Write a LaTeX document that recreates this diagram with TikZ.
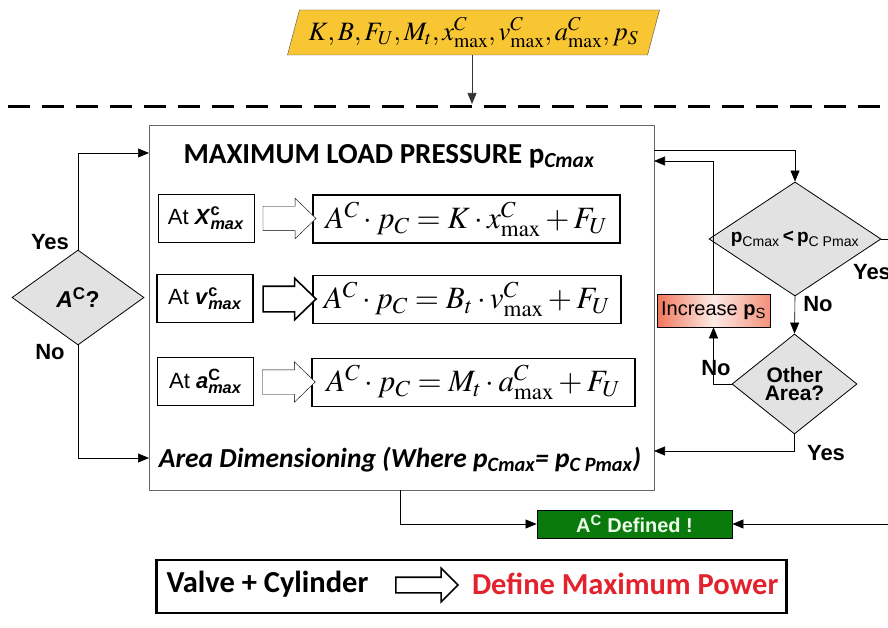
\documentclass[tikz,border=0pt]{standalone}
\usepackage{amsmath}
\usepackage[no-math]{fontspec}
\usepackage{mathptmx}
\setmainfont{Liberation Sans}
\newfontfamily\calibri{Carlito}
\usepackage{tikz}
\usetikzlibrary{arrows.meta, positioning, shapes.geometric, shapes.arrows, calc}
\definecolor{pyellow}{RGB}{248, 198, 51}
\definecolor{dgray}{RGB}{226, 226, 226}
\definecolor{dgreen}{RGB}{10, 122, 12}
\definecolor{dred}{RGB}{226, 34, 44}
\definecolor{salmon}{RGB}{240, 118, 90}

\begin{document}
\begin{tikzpicture}[
  x=1pt, y=-1pt,
  box/.style={rectangle, draw, inner sep=0pt, align=center},
  labelbox/.style={box, thin, minimum width=96pt, minimum height=48pt,
                   font=\fontsize{22}{22}\selectfont},
  eqbox/.style={box, line width=1.6pt, minimum height=48pt,
                font=\fontsize{31}{31}\selectfont},
  decision/.style={diamond, draw, thick, fill=dgray, inner sep=0pt,
                   aspect=1.3, align=center, font=\bfseries\fontsize{21}{18}\selectfont},
  hollow/.style={single arrow, draw, fill=white, inner xsep=0pt, inner ysep=12pt,
                 single arrow head extend=8pt, single arrow tip angle=88,
                 minimum height=53pt},
  arr/.style={-{Triangle[length=11pt, width=9pt]}, semithick},
  tag/.style={font=\bfseries\fontsize{22}{22}\selectfont}
]
  \clip (0,0) rectangle (888,628);

  % input parameters
  \node[trapezium, trapezium left angle=68, trapezium right angle=112,
        trapezium stretches body, draw=black!70, fill=pyellow,
        minimum width=372pt, minimum height=45pt, inner sep=0pt,
        font=\fontsize{26.5}{26.5}\selectfont] (params) at (473.5,32.5)
    {$K,B,F_U,M_t,x^C_{\max},v^C_{\max},a^C_{\max},p_S$};
  \coordinate (dash) at (472,104);
  \draw[arr, black!80] (params.south -| dash) -- (dash);
  \draw[line width=3pt, dash pattern=on 22pt off 12pt] (8,107) -- (888,107);

  % main block
  \node[box, draw=black!60, minimum width=505pt, minimum height=365pt] (main)
    at (401.5,307.5) {};
  \node[font=\calibri\bfseries\fontsize{29}{29}\selectfont] (title) at (389,156)
    {MAXIMUM LOAD PRESSURE p\textsubscript{\itshape Cmax}};

  \node[labelbox] (atx) at (206,218)
    {At $\textbf{\textit{X}}^{\textbf{c}}_{\textbf{\textit{max}}}$};
  \node[labelbox, line width=1.6pt] (atv) at (205,298.5)
    {At $\textbf{\textit{v}}^{\textbf{c}}_{\textbf{\textit{max}}}$};
  \node[labelbox] (ata) at (205.5,381.5)
    {At $\textbf{\textit{a}}^{\textbf{C}}_{\textbf{\textit{max}}}$};

  \node[eqbox, minimum width=307pt] (eqx) at (466.5,219)
    {$A^C\cdot p_C = K\cdot x^C_{\max} + F_U$};
  \node[eqbox, minimum width=308pt] (eqv) at (467,299.5)
    {$A^C\cdot p_C = B_t\cdot v^C_{\max} + F_U$};
  \node[eqbox, minimum width=323pt] (eqa) at (473.5,382.5)
    {$A^C\cdot p_C = M_t\cdot a^C_{\max} + F_U$};

  \node[hollow] at ($(atx.east)!0.5!(eqx.west)$) {};
  \node[hollow, line width=1.6pt] at ($(atv.east)!0.5!(eqv.west)$) {};
  \node[hollow, thin] at ($(ata.east)!0.5!(eqa.west)$) {};

  \node[font=\calibri\bfseries\itshape\fontsize{27.5}{27.5}\selectfont] (area) at (400,460)
    {Area Dimensioning (Where p\textsubscript{Cmax}= p\textsubscript{C Pmax})};

  % area decision
  \node[decision, minimum width=132pt, minimum height=95pt,
        font=\bfseries\fontsize{23}{23}\selectfont] (ac) at (78,297.5)
    {\itshape A\textsuperscript{\upshape C}\upshape ?};
  \node[tag] at (50,242) {Yes};
  \node[tag] at (50,352) {No};
  \coordinate (inTop) at (149,153);
  \coordinate (inBot) at (149,458);
  \draw[arr] (ac.north) |- (inTop);
  \draw[arr] (ac.south) |- (inBot);

  % pressure check
  \node[decision, minimum width=172pt, minimum height=105pt,
        font=\fontsize{19}{19}\selectfont] (check) at (795,239)
    {\textbf{p}\textsubscript{Cmax}\,\textbf{<}\,\textbf{p}\textsubscript{C Pmax}};
  \node[decision, minimum width=125pt, minimum height=100pt] (other) at (794.5,384)
    {Other\\Area?};
  \node[box, semithick, left color=salmon, right color=salmon!80!white,
        middle color=salmon!15!white, minimum width=113pt, minimum height=33pt,
        font=\fontsize{20}{20}\selectfont] (inc) at (713.5,310.5)
    {Increase \textbf{p}\textsubscript{S}};
  \node[tag] at (872,272) {Yes};
  \node[tag] at (818,304) {No};
  \node[tag] at (716,368) {No};
  \node[tag] at (826,453) {Yes};

  \coordinate (outTop) at (654,150);
  \coordinate (inRet) at (654,161);
  \coordinate (inArea) at (654,451);
  \coordinate (rightTop) at (895,239);
  \draw[arr] (outTop) -| (check.north);
  \draw[arr] (check.south) -- (other.north);
  \draw[arr] (other.west) -| (inc.south);
  \draw[arr] (inc.north) |- (inRet);
  \draw[arr] (other.south) |- (inArea);
  \draw[semithick] (check.east) -- (rightTop);

  % result
  \node[box, thick, fill=dgreen, text=green!8!white, minimum width=195pt,
        minimum height=28pt, font=\bfseries\fontsize{20}{20}\selectfont] (defined)
    at (634.5,524) {A\textsuperscript{C} Defined !};
  \coordinate (mainOut) at (400,490);
  \coordinate (rightBot) at (895,524);
  \draw[arr] (mainOut) |- (defined.west);
  \draw[arr] (rightBot) -- (defined.east);

  % summary
  \node[box, line width=2.4pt, minimum width=630pt, minimum height=53pt] (summary)
    at (471.5,586.5) {};
  \node[font=\calibri\bfseries\fontsize{30.5}{30.5}\selectfont, anchor=west] (valve)
    at (163,584) {Valve + Cylinder};
  \node[font=\calibri\bfseries\fontsize{30.5}{30.5}\selectfont, text=dred, anchor=east]
    (power) at (782,584) {Define Maximum Power};
  \node[single arrow, draw, line width=1.6pt, inner xsep=0pt, inner ysep=7pt,
        single arrow head extend=9pt, single arrow tip angle=90,
        minimum height=62pt] at (423,585) {};
\end{tikzpicture}
\end{document}
